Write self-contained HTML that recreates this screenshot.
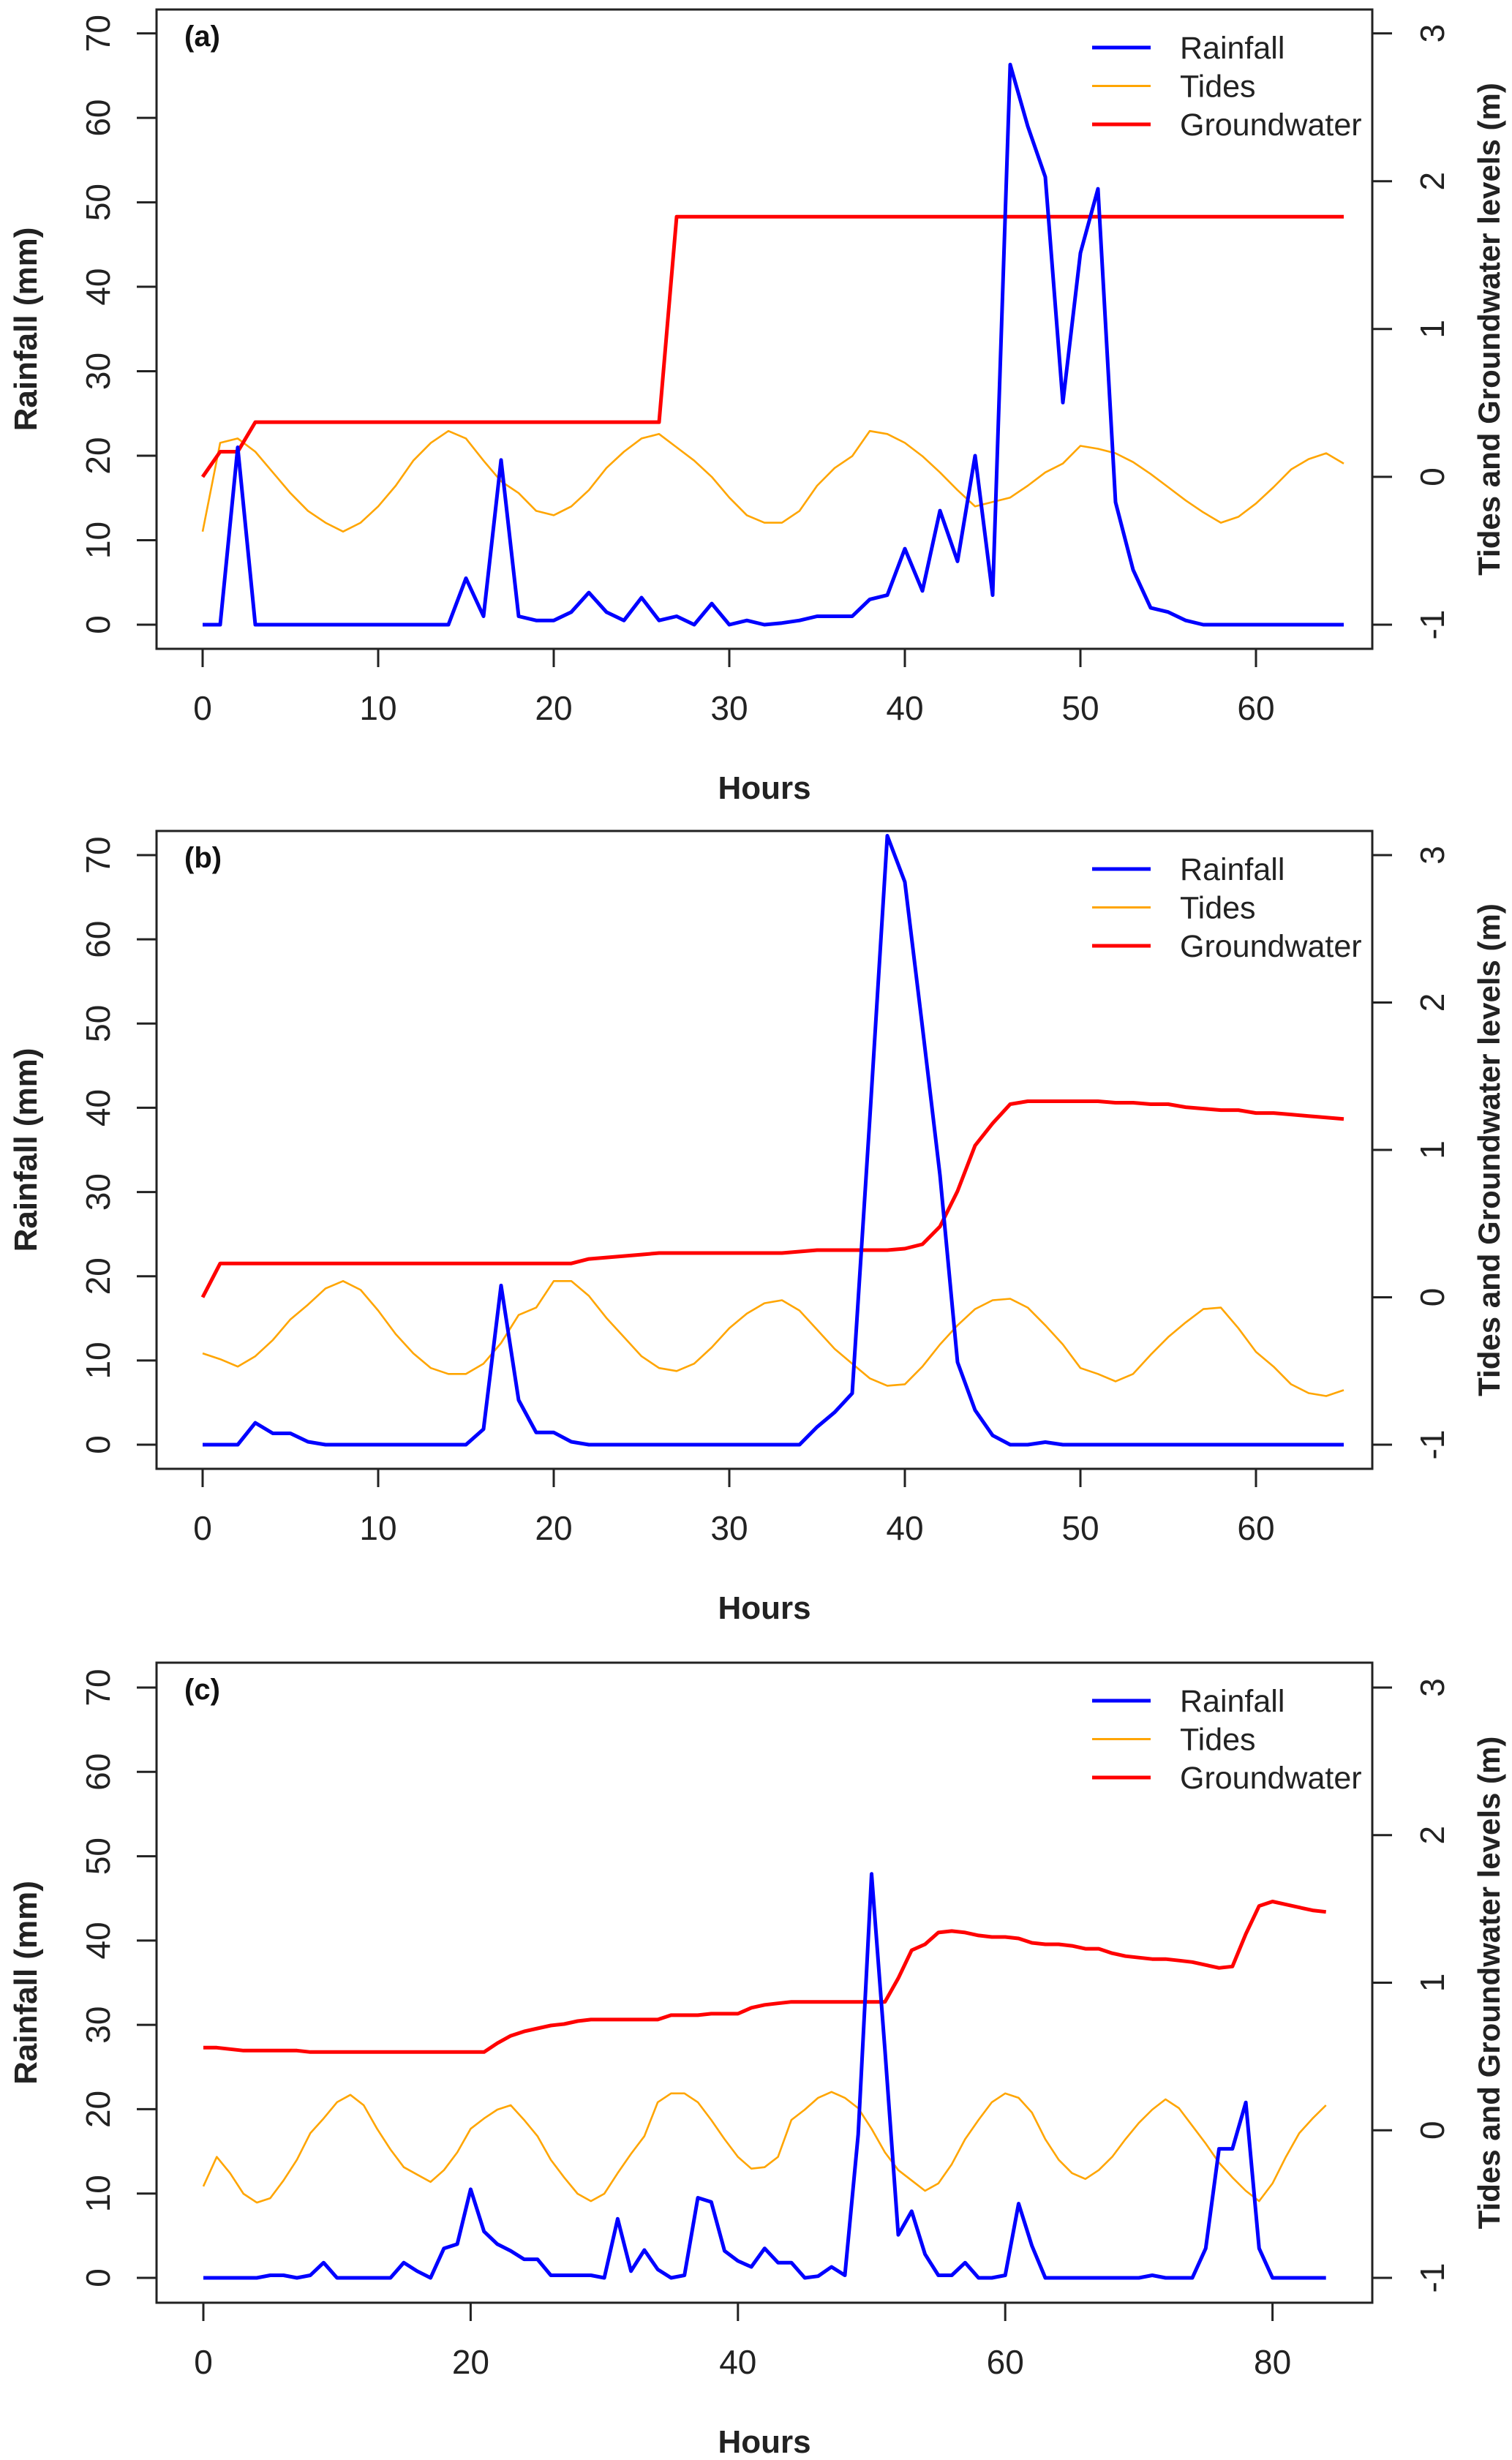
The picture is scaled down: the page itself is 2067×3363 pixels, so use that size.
<!DOCTYPE html>
<html><head><meta charset="utf-8"><style>
html,body{margin:0;padding:0;background:#fff}
svg{display:block}
text{font-family:"Liberation Sans",Arial,sans-serif}
</style></head><body>
<svg id="chart" xmlns="http://www.w3.org/2000/svg" width="2067" height="3363" viewBox="0 0 2067 3363"></svg>
<script>
// ---- Panel (a) data ----
const hoursA = Array.from({length:66},(_,i)=>i);
const rainA = [0,0,21,0,0,0,0,0,0,0,0,0,0,0,0,5.5,1,19.5,1,0.5,0.5,1.5,3.8,1.5,0.5,3.2,0.5,1,0,2.5,0,0.5,0,0.2,0.5,1,1,1,3,3.5,9,4,13.5,7.5,20,3.5,66.3,59,53,26.3,44,51.6,14.5,6.5,2,1.5,0.5,0,0,0,0,0,0,0,0,0];
const tideA = [-0.37,0.23,0.26,0.17,0.03,-0.11,-0.23,-0.31,-0.37,-0.31,-0.2,-0.06,0.11,0.23,0.31,0.26,0.11,-0.03,-0.11,-0.23,-0.26,-0.2,-0.09,0.06,0.17,0.26,0.29,0.2,0.11,0,-0.14,-0.26,-0.31,-0.31,-0.23,-0.06,0.06,0.14,0.31,0.29,0.23,0.14,0.03,-0.09,-0.2,-0.17,-0.14,-0.06,0.03,0.09,0.21,0.19,0.16,0.1,0.02,-0.07,-0.16,-0.24,-0.31,-0.27,-0.18,-0.07,0.05,0.12,0.16,0.09];
const gwA = [0,0.17,0.17,0.37,0.37,0.37,0.37,0.37,0.37,0.37,0.37,0.37,0.37,0.37,0.37,0.37,0.37,0.37,0.37,0.37,0.37,0.37,0.37,0.37,0.37,0.37,0.37,1.76,1.76,1.76,1.76,1.76,1.76,1.76,1.76,1.76,1.76,1.76,1.76,1.76,1.76,1.76,1.76,1.76,1.76,1.76,1.76,1.76,1.76,1.76,1.76,1.76,1.76,1.76,1.76,1.76,1.76,1.76,1.76,1.76,1.76,1.76,1.76,1.76,1.76,1.76];
// ---- Panel (b) data ----
const hoursB = Array.from({length:66},(_,i)=>i);
const rainB = [0,0,0,2.6,1.35,1.35,0.35,0,0,0,0,0,0,0,0,0,1.85,18.9,5.3,1.45,1.45,0.35,0,0,0,0,0,0,0,0,0,0,0,0,0,2.1,3.85,6.1,38.6,72.3,66.8,49.6,32,9.8,4.1,1.1,0,0,0.3,0,0,0,0,0,0,0,0,0,0,0,0,0,0,0,0,0];
const tideB = [-0.38,-0.42,-0.47,-0.4,-0.29,-0.15,-0.05,0.06,0.11,0.05,-0.09,-0.25,-0.38,-0.48,-0.52,-0.52,-0.45,-0.31,-0.12,-0.07,0.11,0.11,0.01,-0.14,-0.27,-0.4,-0.48,-0.5,-0.45,-0.34,-0.21,-0.11,-0.04,-0.02,-0.09,-0.22,-0.35,-0.45,-0.55,-0.6,-0.59,-0.47,-0.32,-0.19,-0.08,-0.02,-0.01,-0.07,-0.19,-0.32,-0.48,-0.52,-0.57,-0.52,-0.39,-0.27,-0.17,-0.08,-0.07,-0.21,-0.37,-0.47,-0.59,-0.65,-0.67,-0.63];
const gwB = [0,0.23,0.23,0.23,0.23,0.23,0.23,0.23,0.23,0.23,0.23,0.23,0.23,0.23,0.23,0.23,0.23,0.23,0.23,0.23,0.23,0.23,0.26,0.27,0.28,0.29,0.3,0.3,0.3,0.3,0.3,0.3,0.3,0.3,0.31,0.32,0.32,0.32,0.32,0.32,0.33,0.36,0.48,0.72,1.03,1.18,1.31,1.33,1.33,1.33,1.33,1.33,1.32,1.32,1.31,1.31,1.29,1.28,1.27,1.27,1.25,1.25,1.24,1.23,1.22,1.21];
// ---- Panel (c) data ----
const hoursC = Array.from({length:85},(_,i)=>i);
const rainC = [0,0,0,0,0,0.3,0.3,0,0.3,1.8,0,0,0,0,0,1.8,0.8,0,3.5,4,10.5,5.5,4,3.2,2.2,2.2,0.3,0.3,0.3,0.3,0,7,0.8,3.3,1,0,0.3,9.5,9,3.2,2,1.3,3.5,1.8,1.8,0,0.2,1.3,0.3,17,47.9,27,5.1,7.9,2.8,0.3,0.3,1.8,0,0,0.3,8.8,3.8,0,0,0,0,0,0,0,0,0.3,0,0,0,3.5,15.3,15.3,20.8,3.5,0,0,0,0,0];
const tideC = [-0.38,-0.18,-0.29,-0.43,-0.49,-0.46,-0.34,-0.2,-0.02,0.08,0.19,0.24,0.17,0.01,-0.13,-0.25,-0.3,-0.35,-0.27,-0.15,0.01,0.08,0.14,0.17,0.07,-0.04,-0.2,-0.32,-0.43,-0.48,-0.43,-0.29,-0.16,-0.04,0.19,0.25,0.25,0.19,0.07,-0.06,-0.18,-0.26,-0.25,-0.18,0.07,0.14,0.22,0.26,0.22,0.15,0.01,-0.15,-0.27,-0.34,-0.41,-0.36,-0.23,-0.06,0.07,0.19,0.25,0.22,0.12,-0.06,-0.2,-0.29,-0.33,-0.27,-0.18,-0.06,0.05,0.14,0.21,0.15,0.03,-0.09,-0.22,-0.32,-0.41,-0.48,-0.36,-0.18,-0.02,0.08,0.17];
const gwC = [0.56,0.56,0.55,0.54,0.54,0.54,0.54,0.54,0.53,0.53,0.53,0.53,0.53,0.53,0.53,0.53,0.53,0.53,0.53,0.53,0.53,0.53,0.59,0.64,0.67,0.69,0.71,0.72,0.74,0.75,0.75,0.75,0.75,0.75,0.75,0.78,0.78,0.78,0.79,0.79,0.79,0.83,0.85,0.86,0.87,0.87,0.87,0.87,0.87,0.87,0.87,0.87,1.03,1.22,1.26,1.34,1.35,1.34,1.32,1.31,1.31,1.3,1.27,1.26,1.26,1.25,1.23,1.23,1.2,1.18,1.17,1.16,1.16,1.15,1.14,1.12,1.1,1.11,1.33,1.52,1.55,1.53,1.51,1.49,1.48];

const leftTicks = [0,10,20,30,40,50,60,70];
const rightTicks = [-1,0,1,2,3];
const xTicksAB = [0,10,20,30,40,50,60];
const xTicksC = [0,20,40,60,80];
const legendLabels = ["Rainfall","Tides","Groundwater"];

const NS="http://www.w3.org/2000/svg";
const svg=document.getElementById('chart');
function mk(tag,attrs,parent){const e=document.createElementNS(NS,tag);for(const k in attrs)e.setAttribute(k,attrs[k]);(parent||svg).appendChild(e);return e;}

function panel(cfg){
  const g=mk('g',{});
  
  
  const L=214,R=1876,T=cfg.top,B=cfg.bottom;
  const xs=h=>cfg.x0+h*cfg.xpx;
  const yl=v=>cfg.y0-v*(cfg.y0-cfg.y70)/70;
  const yr=m=>yl((m+1)*17.5);
  const box=mk('rect',{x:L,y:T,width:R-L,height:B-T,fill:'none',stroke:'#222','stroke-width':3},g);
  
  
  leftTicks.forEach(v=>{
    const y=yl(v);
    const t=mk('line',{x1:187,x2:L,y1:y,y2:y,stroke:'#222','stroke-width':3},g);
    
    
    const tx=mk('text',{x:150,y:y,'font-size':46,'text-anchor':'middle',transform:`rotate(-90 150 ${y})`,fill:'#222'},g);
    tx.textContent=v;
    
    
  });
  rightTicks.forEach(m=>{
    const y=yr(m);
    const t=mk('line',{x1:R,x2:1903,y1:y,y2:y,stroke:'#222','stroke-width':3},g);
    
    
    const tx=mk('text',{x:1974,y:y,'font-size':46,'text-anchor':'middle',transform:`rotate(-90 1974 ${y})`,fill:'#222'},g);
    tx.textContent=m;
    
    
  });
  cfg.xticks.forEach(h=>{
    const x=xs(h);
    const t=mk('line',{x1:x,x2:x,y1:B,y2:B+25,stroke:'#222','stroke-width':3},g);
    
    
    const tx=mk('text',{x:x,y:B+97,'font-size':46,'text-anchor':'middle',fill:'#222'},g);
    tx.textContent=h;
    
    
  });
  const mid=(T+B)/2;
  const lt=mk('text',{x:50,y:mid,'font-size':44,'font-weight':'bold','text-anchor':'middle',transform:`rotate(-90 50 ${mid})`,fill:'#222'},g);
  lt.textContent='Rainfall (mm)';
  
  
  const rt=mk('text',{x:2050,y:mid,'font-size':42,'font-weight':'bold','text-anchor':'middle',transform:`rotate(-90 2050 ${mid})`,fill:'#222'},g);
  rt.textContent='Tides and Groundwater levels (m)';
  
  
  const xt=mk('text',{x:1045,y:B+205,'font-size':44,'font-weight':'bold','text-anchor':'middle',fill:'#222'},g);
  xt.textContent='Hours';
  
  
  const pl=mk('text',{x:252,y:T+50,'font-size':40,'font-weight':'bold',fill:'#111'},g);
  pl.textContent='('+cfg.id+')';
  
  
  const pts=(arr,f)=>cfg.hours.map((h,i)=>xs(h).toFixed(1)+','+f(arr[i]).toFixed(1)).join(' ');
  const tl=mk('polyline',{points:pts(cfg.tide,yr),fill:'none',stroke:'#FFA500','stroke-width':2.6,'stroke-linejoin':'round'},g);
  
  
  const gl=mk('polyline',{points:pts(cfg.gw,yr),fill:'none',stroke:'#FF0000','stroke-width':5,'stroke-linejoin':'round'},g);
  
  
  const rl=mk('polyline',{points:pts(cfg.rain,yl),fill:'none',stroke:'#0000FF','stroke-width':5,'stroke-linejoin':'round'},g);
  
  
  const cols=['#0000FF','#FFA500','#FF0000'];
  const lw=[5,3,5];
  legendLabels.forEach((lab,i)=>{
    const y=T+52+i*52.5;
    const ln=mk('line',{x1:1493,x2:1573,y1:y,y2:y,stroke:cols[i],'stroke-width':lw[i]},g);
    
    
    const tx=mk('text',{x:1613,y:y+15,'font-size':43,fill:'#222'},g);
    tx.textContent=lab;
    
    
  });
}
panel({id:'a',top:13,bottom:887,x0:277,xpx:24.0,y0:854,y70:45.6,hours:hoursA,rain:rainA,tide:tideA,gw:gwA,xticks:xTicksAB});
panel({id:'b',top:1136,bottom:2008,x0:277,xpx:24.0,y0:1975,y70:1169,hours:hoursB,rain:rainB,tide:tideB,gw:gwB,xticks:xTicksAB});
panel({id:'c',top:2273,bottom:3148,x0:278,xpx:18.27,y0:3114,y70:2307,hours:hoursC,rain:rainC,tide:tideC,gw:gwC,xticks:xTicksC});
</script>
</body></html>
